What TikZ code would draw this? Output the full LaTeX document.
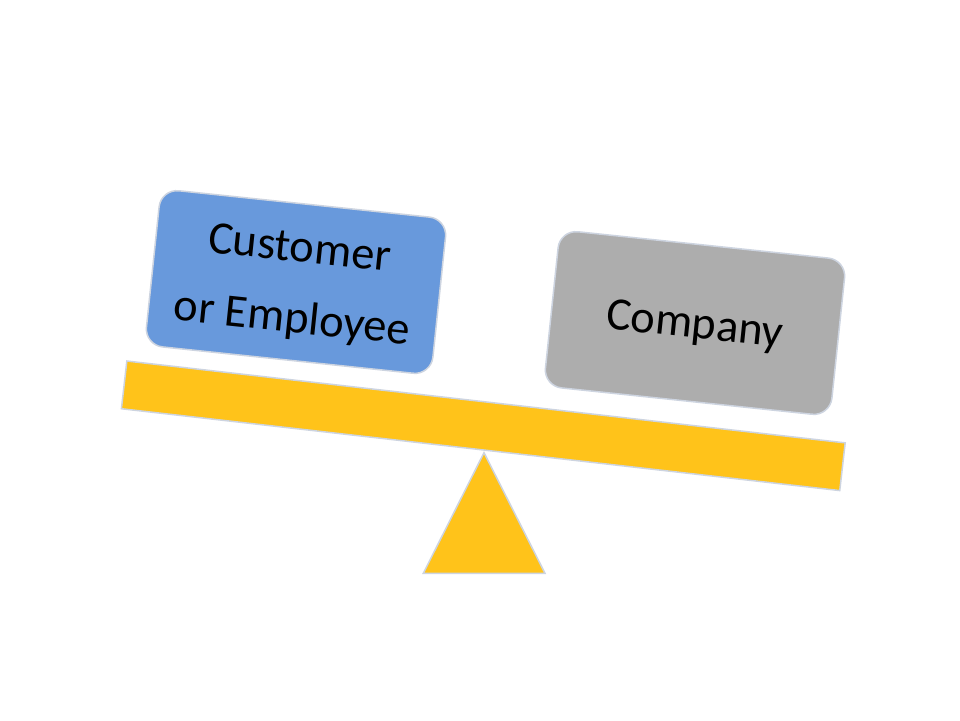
\documentclass[tikz,border=0pt]{standalone}
\usepackage{fontspec}
\setmainfont{Carlito}
\definecolor{custblue}{RGB}{104,153,220}
\definecolor{compgray}{RGB}{173,173,173}
\definecolor{beamgold}{RGB}{255,195,26}
\definecolor{edgegray}{RGB}{205,212,224}
\begin{document}
\begin{tikzpicture}[x=1pt,y=-1pt,
  card/.style={draw=edgegray, line width=1.5pt, rounded corners=18pt,
    minimum width=288pt, minimum height=157pt, inner sep=0pt, align=center,
    text depth=0pt, text=black, font=\fontsize{46.5}{71}\selectfont},
  plank/.style={draw=edgegray, line width=1.5pt, fill=beamgold, inner sep=0pt,
    minimum width=723pt, minimum height=48pt},
  fulcrum/.style={draw=edgegray, line width=1.5pt, fill=beamgold, line join=miter}]
\useasboundingbox (0,0) rectangle (960,720);
\fill[white] (0,0) rectangle (960,720);
% beam
\node[plank, rotate=-6.5] (beam) at (483.3,425.8) {};
% fulcrum
\coordinate (apex) at (484,452.7);
\coordinate (bl) at (423.3,573.3);
\coordinate (br) at (545,573.3);
\draw[fulcrum] (apex) -- (br) -- (bl) -- cycle;
% boxes
\node[card, fill=custblue, rotate=-6] (cust) at (296,282) {Customer\\or Employee};
\node[card, fill=compgray, rotate=-6] (comp) at (695,323) {Company};
\end{tikzpicture}
\end{document}
